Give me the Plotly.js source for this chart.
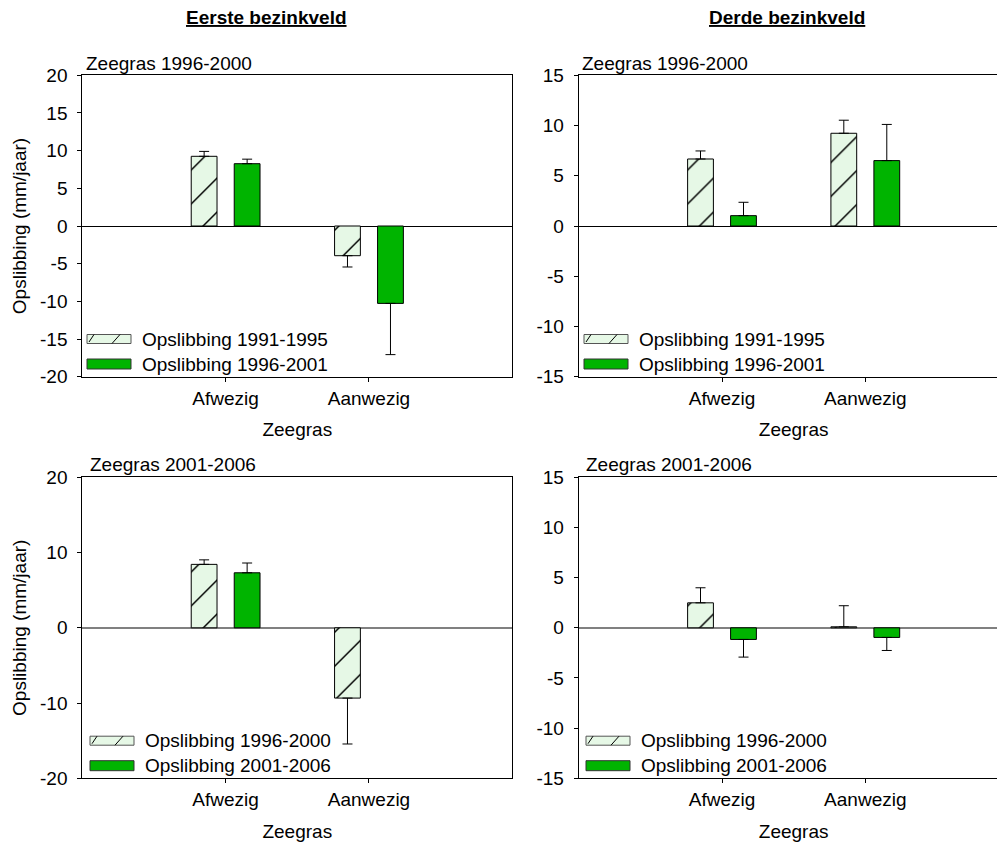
<!DOCTYPE html>
<html><head><meta charset="utf-8">
<script src="https://cdn.plot.ly/plotly-3.0.1.min.js"></script>
<style>html,body{margin:0;padding:0;overflow:hidden;background:#fff}#chart{width:1010px;height:847px}</style>
</head><body><div id="chart"></div>
<script>
// ---------- data ----------
const categories = ['Afwezig', 'Aanwezig'];
const columnTitles = ['Eerste bezinkveld', 'Derde bezinkveld'];
const panelLabels = ['Zeegras 1996-2000', 'Zeegras 1996-2000', 'Zeegras 2001-2006', 'Zeegras 2001-2006'];
const xTitle = 'Zeegras';
const yTitle = 'Opslibbing (mm/jaar)';
const namesTop = ['Opslibbing 1991-1995', 'Opslibbing 1996-2001'];
const namesBottom = ['Opslibbing 1996-2000', 'Opslibbing 2001-2006'];

// y tick labels (hyphen-minus as in the original)
const ticks20by5 = [-20, -15, -10, -5, 0, 5, 10, 15, 20];
const ticks20by5Text = ['-20', '-15', '-10', '-5', '0', '5', '10', '15', '20'];
const ticks15by5 = [-15, -10, -5, 0, 5, 10, 15];
const ticks15by5Text = ['-15', '-10', '-5', '0', '5', '10', '15'];
const ticks20by10 = [-20, -10, 0, 10, 20];
const ticks20by10Text = ['-20', '-10', '0', '10', '20'];

// top-left (Eerste bezinkveld, Zeegras 1996-2000)
const tlHatched = [9.25, -3.94];
const tlHatchedErr = [0.65, 1.5];
const tlGreen = [8.27, -10.27];
const tlGreenErr = [0.6, 6.8];
// top-right (Derde bezinkveld, Zeegras 1996-2000)
const trHatched = [6.67, 9.23];
const trHatchedErr = [0.8, 1.3];
const trGreen = [1.03, 6.51];
const trGreenErr = [1.33, 3.6];
// bottom-left (Eerste bezinkveld, Zeegras 2001-2006)
const blHatched = [8.43, -9.34];
const blHatchedErr = [0.6, 6.1];
const blGreen = [7.31, null];
const blGreenErr = [1.3, null];
// bottom-right (Derde bezinkveld, Zeegras 2001-2006)
const brHatched = [2.49, 0.1];
const brHatchedErr = [1.5, 2.1];
const brGreen = [-1.16, -0.96];
const brGreenErr = [1.76, 1.3];

// ---------- styling ----------
const W = 1010, H = 847;
const FONT = 'Liberation Sans, Arial, Helvetica, sans-serif';
const FS = 19;
const HATCH_BG = '#e6f8e6';
const GREEN = '#00b400';
const fx = x => x / W;
const fy = y => 1 - y / H;

function errUp(v, e) { return v.map((d, i) => d == null ? null : (d >= 0 ? e[i] : 0)); }
function errDown(v, e) { return v.map((d, i) => d == null ? null : (d >= 0 ? 0 : e[i])); }

function bars(vals, errs, hatched, n, name) {
  const marker = hatched
    ? {color: HATCH_BG, line: {color: '#000', width: 1},
       pattern: {shape: '/', fgcolor: '#000', bgcolor: HATCH_BG, size: 24, solidity: 0.06}}
    : {color: GREEN, line: {color: '#000', width: 1}};
  return {
    type: 'bar', x: categories, y: vals, name: name,
    xaxis: n === 1 ? 'x' : 'x' + n, yaxis: n === 1 ? 'y' : 'y' + n,
    showlegend: false, hoverinfo: 'skip', marker: marker,
    error_y: {type: 'data', symmetric: false, array: errUp(vals, errs), arrayminus: errDown(vals, errs),
              color: '#000', thickness: 1, width: 5}
  };
}

const data = [
  bars(tlHatched, tlHatchedErr, true, 1, namesTop[0]),
  bars(tlGreen, tlGreenErr, false, 1, namesTop[1]),
  bars(trHatched, trHatchedErr, true, 2, namesTop[0]),
  bars(trGreen, trGreenErr, false, 2, namesTop[1]),
  bars(blHatched, blHatchedErr, true, 3, namesBottom[0]),
  bars(blGreen, blGreenErr, false, 3, namesBottom[1]),
  bars(brHatched, brHatchedErr, true, 4, namesBottom[0]),
  bars(brGreen, brGreenErr, false, 4, namesBottom[1])
];

const domL = [fx(82.3), fx(512.3)], domR = [fx(578.7), fx(1008.6)];
const domT = [fy(376.7), fy(75.3)], domB = [fy(778.3), fy(477.3)];

function xax(dom, anchor) {
  return {domain: dom, anchor: anchor, type: 'category', range: [-1, 2], fixedrange: true,
    showline: true, linecolor: '#000', linewidth: 1, mirror: true,
    ticks: 'outside', ticklen: 4, tickcolor: '#000', tickwidth: 1,
    tickfont: {family: FONT, size: FS, color: '#000'}, ticklabelstandoff: 0,
    showgrid: false, zeroline: false,
    title: {text: xTitle, font: {family: FONT, size: FS, color: '#000'}, standoff: 15}};
}
function yax(dom, anchor, r, tv, tt, zc, zw, withTitle) {
  return {domain: dom, anchor: anchor, range: r, tickmode: 'array', tickvals: tv, ticktext: tt, fixedrange: true,
    showline: true, linecolor: '#000', linewidth: 1, mirror: true,
    ticks: 'outside', ticklen: 4, tickcolor: '#000', tickwidth: 1,
    tickfont: {family: FONT, size: FS, color: '#000'}, ticklabelstandoff: 6,
    showgrid: false, zeroline: true, zerolinecolor: zc, zerolinewidth: zw,
    title: withTitle ? {text: yTitle, font: {family: FONT, size: FS, color: '#000'}, standoff: 8} : {text: ''}};
}

const annotations = [];
const shapes = [];
function txt(text, x, y, xanchor, extra) {
  annotations.push(Object.assign({text: text, xref: 'paper', yref: 'paper', x: fx(x), y: fy(y),
    xanchor: xanchor, yanchor: 'middle', showarrow: false,
    font: {family: FONT, size: FS, color: '#000'}}, extra || {}));
}
txt('<b><u>' + columnTitles[0] + '</u></b>', 266, 18, 'center');
txt('<b><u>' + columnTitles[1] + '</u></b>', 786.5, 18, 'center');
txt(panelLabels[0], 84, 64, 'left');
txt(panelLabels[1], 580, 64, 'left');
txt(panelLabels[2], 87.5, 464.3, 'left');
txt(panelLabels[3], 583.5, 464.3, 'left');

function legendBlock(left, cy, names) {
  const w = 44, h = 9;
  // hatched swatch
  shapes.push({type: 'rect', xref: 'paper', yref: 'paper', x0: fx(left), x1: fx(left + w),
    y0: fy(cy + h / 2), y1: fy(cy - h / 2), fillcolor: HATCH_BG, line: {color: '#555', width: 1}});
  shapes.push({type: 'line', xref: 'paper', yref: 'paper', x0: fx(left + 2), y0: fy(cy + 3),
    x1: fx(left + 7), y1: fy(cy - 4.5), line: {color: '#000', width: 1}});
  shapes.push({type: 'line', xref: 'paper', yref: 'paper', x0: fx(left + 25), y0: fy(cy + 4.5),
    x1: fx(left + 33), y1: fy(cy - 4.5), line: {color: '#000', width: 1}});
  // green swatch
  const cy2 = cy + 25;
  shapes.push({type: 'rect', xref: 'paper', yref: 'paper', x0: fx(left), x1: fx(left + w),
    y0: fy(cy2 + h / 2 + 0.5), y1: fy(cy2 - h / 2 - 0.5), fillcolor: GREEN, line: {color: '#333', width: 1}});
  txt(names[0], left + 53, cy, 'left');
  txt(names[1], left + 53, cy2, 'left');
}
legendBlock(87, 339, namesTop);
legendBlock(584, 339, namesTop);
legendBlock(90, 740.7, namesBottom);
legendBlock(586, 740.7, namesBottom);

const layout = {
  width: W, height: H, margin: {l: 0, r: 0, t: 0, b: 0},
  paper_bgcolor: '#fff', plot_bgcolor: '#fff',
  font: {family: FONT, size: FS, color: '#000'},
  barmode: 'group', bargap: 0.4, bargroupgap: 0.4, showlegend: false,
  xaxis: xax(domL, 'y'), yaxis: yax(domT, 'x', [-20, 20], ticks20by5, ticks20by5Text, '#000', 1, true),
  xaxis2: xax(domR, 'y2'), yaxis2: yax(domT, 'x2', [-15, 15], ticks15by5, ticks15by5Text, '#000', 1, false),
  xaxis3: xax(domL, 'y3'), yaxis3: yax(domB, 'x3', [-20, 20], ticks20by10, ticks20by10Text, '#808080', 2, true),
  xaxis4: xax(domR, 'y4'), yaxis4: yax(domB, 'x4', [-15, 15], ticks15by5, ticks15by5Text, '#808080', 2, false),
  annotations: annotations, shapes: shapes
};

Plotly.newPlot('chart', data, layout, {displayModeBar: false, staticPlot: true});
</script>
</body></html>
